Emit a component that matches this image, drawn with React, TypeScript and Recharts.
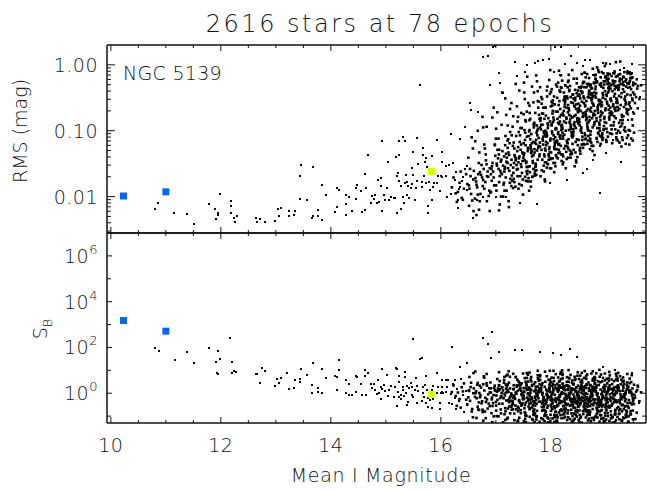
import React from 'react';
import { ScatterChart, Scatter, XAxis, YAxis } from 'recharts';

// ---- data ----
// brighter, sparse stars: [mean I magnitude, RMS (mag)]
const rmsBright: [number, number][] = [
  [10.81,0.0064],[10.86,0.0081],[11.15,0.0057],[11.38,0.0055],[11.52,0.0039],[11.78,0.0078],[11.90,0.0065],[11.94,0.0056],[11.95,0.0053],[11.91,0.0046],
  [11.99,0.0111],[12.18,0.0087],[12.19,0.0071],[12.18,0.0057],[12.24,0.0048],[12.29,0.0051],[12.26,0.0041],[12.63,0.0048],[12.66,0.0041],[12.71,0.0045],
  [12.81,0.0041],[12.99,0.0042],[13.03,0.0065],[13.09,0.0068],[13.05,0.0050],[13.23,0.0061],[13.24,0.0050],[13.33,0.0053],[13.35,0.0061],[13.44,0.0093],
  [13.45,0.0303],[13.44,0.0206],[13.57,0.0089],[13.68,0.0286],[13.65,0.0048],[13.67,0.0050],[13.76,0.0050],[13.83,0.0044],[13.76,0.0063],[13.84,0.0152],
  [13.91,0.0106],[14.07,0.0059],[14.11,0.0137],[14.15,0.0126],[14.12,0.0070],[14.27,0.0105],[14.27,0.0077],[14.27,0.0053],[14.33,0.0100],[14.38,0.0061],
  [14.45,0.0134],[14.48,0.0151],[14.45,0.0091],[14.54,0.0121],[14.56,0.0059],[14.62,0.0063],[14.64,0.0136],[14.62,0.0221],[14.68,0.0421],[14.73,0.0081],
  [14.75,0.0103],[14.78,0.0092],[14.80,0.0106],[14.85,0.0179],[14.84,0.0079],[14.88,0.0083],[14.91,0.0190],[14.93,0.0686],[14.92,0.0147],[14.93,0.0060],
  [14.97,0.0105],[14.99,0.0089],[15.02,0.0134],[15.04,0.0340],[15.06,0.0089],[15.09,0.0098],[15.14,0.0096],[15.17,0.0094],[15.18,0.0392],[15.20,0.0057],
  [15.21,0.0206],[15.22,0.0232],[15.24,0.0703],[15.24,0.0430],[15.23,0.0175],[15.27,0.0146],[15.28,0.0064],[15.31,0.0100],[15.32,0.0798],[15.35,0.0158],
  [15.35,0.0686],[15.33,0.0079],[15.36,0.0216],[15.38,0.0169],[15.39,0.0104],[15.41,0.0146],[15.42,0.0096],[15.45,0.0137],[15.47,0.0270],[15.48,0.0156],
  [15.50,0.0472],[15.50,0.0209],[15.53,0.0090],[15.56,0.0771],[15.55,0.0134],[15.56,0.0171],[15.58,0.0314],[15.62,0.493],[15.65,0.0169],[15.67,0.0421],
  [15.68,0.0544],[15.66,0.0142],[15.69,0.0202],[15.71,0.0337],[15.73,0.0383],[15.74,0.0286],[15.73,0.0161],[15.76,0.0073],[15.76,0.0057],[15.78,0.0169],
  [15.81,0.0125],[15.84,0.0416],[15.84,0.0090],[15.86,0.0140],[15.88,0.0163],[15.93,0.0711],[15.93,0.0160],[15.95,0.0206],[15.99,0.0122],[16.00,0.0204],
  [16.02,0.0472],[16.02,0.0337],[16.02,0.0200],[16.10,0.0206],[16.10,0.0293],[16.14,0.0303],[16.12,0.0100],
];

// faint-end outliers and envelope: [mag, RMS]
const rmsEdge: [number, number][] = [
  [16.18,0.011],[16.22,0.032],[16.25,0.018],[16.28,0.024],[16.35,0.014],[16.41,0.020],[16.47,0.029],[16.47,0.0126],[16.31,0.009],[16.39,0.017],[16.44,0.026],[16.33,0.013],
  [16.19,0.090],[16.35,0.074],[16.54,0.208],[16.68,0.189],[16.44,0.113],[16.53,0.262],[16.59,0.0047],[16.32,0.0066],[16.77,0.010],[16.65,0.0089],[17.01,0.010],
  [17.19,0.010],[17.44,0.008],[17.74,0.0077],[17.98,0.016],[18.29,0.018],[18.59,0.023],[18.65,0.026],[18.77,0.036],[18.89,0.0115],[19.27,0.033],[18.89,0.058],
  [19.01,0.046],[19.13,0.073],[19.25,0.115],[19.41,0.147],[19.44,0.234],[19.50,0.195],[19.41,0.45],[19.62,0.33],
  [16.76,1.31],[16.86,1.35],[16.94,1.86],[16.99,1.95],[17.05,0.75],[16.90,0.49],[17.07,0.53],[17.13,0.37],[17.35,1.09],[17.38,0.67],[17.53,0.77],[17.56,1.0],
  [17.71,1.06],[17.77,1.13],[17.86,1.17],[17.97,1.22],[18.05,0.79],[18.08,1.86],[18.18,1.86],[18.16,0.71],[18.26,1.04],[18.36,1.37],[18.47,1.06],[18.58,0.97],
  [18.62,1.19],[18.71,1.17],[18.77,0.71],[18.95,1.06],[19.07,1.04],[19.13,0.75],[19.26,0.84],[19.33,0.89],[19.44,0.79],[19.48,1.02],
];

// brighter, sparse stars: [mag, S_B]
const sbBright: [number, number][] = [
  [10.81,98],[10.87,72],[11.16,28],[11.39,63],[11.52,20],[11.78,92],[11.94,72],[11.99,30],[11.92,22],[11.93,7.9],[11.94,7.0],[12.17,250],[12.20,22],[12.23,9.4],[12.28,8.8],[12.20,7.5],
  [12.64,6.7],[12.66,7.0],[12.75,12.3],[12.81,9.4],[12.71,2.9],[12.99,2.1],[13.02,4.1],[13.09,4.8],[13.05,2.7],[13.21,8.0],[13.24,1.6],[13.33,1.76],[13.35,3.8],[13.44,4.1],
  [13.44,3.1],[13.45,11.9],[13.57,6.3],[13.65,2.3],[13.68,20.4],[13.66,1.07],[13.76,1.1],[13.77,1.7],[13.83,11.9],[13.84,1.0],[13.91,4.5],[14.07,5.7],[14.11,1.35],[14.15,28],
  [14.12,5.3],[14.14,10.4],[14.27,3.7],[14.27,1.0],[14.33,2.6],[14.33,0.81],[14.38,0.87],[14.45,5.9],[14.48,5.2],[14.45,1.1],[14.54,2.6],[14.56,0.87],[14.62,10.4],[14.64,0.87],
  [14.62,5.7],[14.68,8.0],[14.73,2.5],[14.75,1.65],[14.78,2.5],[14.80,1.35],[14.85,3.8],[14.84,0.96],[14.88,1.07],[14.91,1.95],[14.93,11.1],[14.92,0.58],[14.93,1.49],[14.97,2.2],
  [14.99,1.3],[15.02,6.1],[15.04,0.74],[15.06,1.39],[15.09,2.1],[15.14,0.71],[15.17,1.95],[15.18,13.2],[15.20,0.29],[15.21,11.1],[15.22,1.18],[15.24,3.2],[15.24,5.7],[15.23,0.71],
  [15.27,0.81],[15.28,0.55],[15.31,1.95],[15.32,1.39],[15.35,8.8],[15.35,5.3],[15.33,0.79],[15.36,1.07],[15.38,0.31],[15.39,2.15],[15.41,0.43],[15.42,1.7],[15.45,2.9],[15.47,0.84],
  [15.48,1.95],[15.50,243],[15.50,0.71],[15.53,1.44],[15.56,0.36],[15.55,4.5],[15.56,2.15],[15.58,1.22],[15.62,30],[15.65,33],[15.67,1.95],[15.68,1.0],[15.66,0.48],[15.69,0.71],
  [15.71,2.3],[15.73,5.7],[15.74,1.39],[15.73,0.38],[15.76,0.6],[15.76,0.26],[15.78,1.18],[15.81,0.51],[15.84,0.22],[15.84,1.39],[15.86,2.1],[15.88,0.84],[15.93,8.0],[15.93,1.07],
  [15.95,1.95],[15.99,0.36],[16.00,1.07],[16.02,1.1],[16.02,1.8],[16.02,3.8],[16.10,3.8],[16.10,1.1],[16.14,0.36],[16.12,1.95],[15.98,0.2],[16.04,1.0],[16.13,3.8],[15.86,0.55],
];

// faint-end outliers: [mag, S_B]
const sbEdge: [number, number][] = [
  [16.93,450],[16.76,270],[16.86,138],[16.20,102],[17.06,66],[17.34,78],[17.48,78],[17.80,66],[18.35,85],[18.04,56],[18.19,47],[18.47,40],[16.35,14.6],[16.48,20],
  [16.92,36],[19.47,7.4],[19.61,0.39],[19.16,10.4],[18.95,14.6],[16.25,3.8],
  [16.18,0.9],[16.20,0.35],[16.22,2.5],[16.25,0.6],[16.28,0.2],[16.30,1.5],[16.33,0.45],[16.36,4.0],[16.40,0.8],[16.42,0.15],[16.45,1.2],[16.48,0.3],
];

// dense faint cloud, core: [mag, log10 RMS, log10 S_B]
const faintCore: [number, number, number][] = [
  [16.27,-1.95,-0.12],[16.23,-1.71,0.34],[16.29,-2.08,-0.55],[16.20,-1.86,0.05],
  [16.34,-1.79,-0.26],[16.38,-2.02,0.26],[16.31,-1.93,0.03],[16.36,-1.62,-0.63],
  [16.42,-1.88,0.43],[16.46,-1.66,-0.28],[16.40,-2.05,0.08],[16.48,-1.81,-0.49],
  [16.59,-1.74,0.00],[16.55,-1.96,0.46],[16.53,-1.58,-0.33],[16.51,-1.83,0.10],[16.57,-2.06,-0.69],[16.54,-1.69,0.27],[16.50,-1.41,-0.18],[16.52,-1.88,0.71],
  [16.65,-1.82,-0.22],[16.60,-1.61,0.21],[16.67,-1.97,-0.59],[16.63,-1.72,0.00],[16.69,-1.49,-0.40],[16.66,-1.86,0.37],[16.62,-2.03,-0.16],[16.68,-1.66,-0.71],[16.64,-1.77,0.08],
  [16.71,-1.63,-0.18],[16.79,-1.88,0.12],[16.74,-1.52,-0.44],[16.77,-1.75,0.39],[16.72,-1.96,-0.09],[16.78,-1.58,0.74],[16.75,-1.71,-0.35],[16.70,-1.33,0.01],[16.76,-1.84,-0.82],[16.73,-1.67,0.25],
  [16.86,-1.70,-0.05],[16.82,-1.45,-0.38],[16.88,-1.91,0.22],[16.85,-1.62,-0.67],[16.81,-1.78,-0.20],[16.83,-1.51,0.43],[16.87,-1.99,-0.45],[16.89,-1.57,0.04],[16.80,-1.27,-0.80],[16.84,-1.69,-0.27],
  [16.93,-1.54,-0.19],[16.97,-1.83,0.24],[16.95,-1.62,-0.43],[16.99,-1.38,0.12],[16.96,-1.71,-0.08],[16.90,-1.94,0.47],[16.94,-1.49,-0.56],[16.91,-1.66,0.03],[16.98,-1.21,0.33],[16.92,-1.58,-0.87],[16.925,-1.76,-0.27],
  [17.08,-1.61,-0.21],[17.04,-1.42,0.21],[17.06,-1.78,-0.46],[17.02,-1.53,0.07],[17.03,-1.29,-0.29],[17.07,-1.69,0.53],[17.01,-1.91,-0.10],[17.09,-1.47,-0.71],[17.05,-1.58,0.12],[17.00,-1.12,-0.38],[17.005,-1.83,-0.54],[17.055,-1.36,0.35],[17.095,-1.64,-0.15],[17.015,-1.50,-1.00],
  [17.10,-1.44,-0.13],[17.11,-1.66,0.26],[17.12,-1.31,-0.46],[17.13,-1.53,0.12],[17.14,-1.82,-0.22],[17.15,-1.39,0.57],[17.16,-1.58,-0.02],[17.17,-1.22,-0.65],[17.18,-1.71,0.38],[17.19,-1.47,-0.32],[17.195,-1.91,0.04],[17.185,-1.35,0.20],[17.175,-1.08,-0.79],[17.165,-1.55,-0.10],[17.155,-1.62,0.71],
  [17.27,-1.52,-0.34],[17.23,-1.33,0.06],[17.29,-1.68,-0.52],[17.20,-1.41,0.30],[17.25,-1.19,-0.21],[17.22,-1.57,-0.67],[17.28,-1.84,-0.01],[17.24,-1.37,-0.39],[17.21,-1.49,0.15],[17.26,-1.02,-0.88],[17.265,-1.73,-0.15],[17.215,-1.26,0.38],[17.245,-1.61,-0.58],[17.285,-1.44,-0.08],[17.225,-1.13,-0.30],[17.255,-1.79,0.72],[17.205,-1.48,-1.12],
  [17.34,-1.37,-0.16],[17.38,-1.59,0.28],[17.31,-1.23,-0.47],[17.36,-1.45,0.03],[17.30,-1.76,-0.33],[17.39,-1.31,0.59],[17.33,-1.49,-0.10],[17.37,-1.08,-0.70],[17.32,-1.64,0.17],[17.35,-1.40,-0.25],[17.355,-1.85,-0.54],[17.325,-1.18,0.35],[17.375,-1.52,-0.02],[17.335,-1.27,-0.89],[17.395,-1.69,0.10],[17.305,-0.94,-0.37],[17.365,-1.42,0.71],[17.315,-1.56,-0.19],
  [17.42,-1.42,-0.34],[17.46,-1.21,0.11],[17.40,-1.58,-0.59],[17.48,-1.33,-0.01],[17.44,-1.07,-0.41],[17.41,-1.48,0.34],[17.49,-1.74,-0.22],[17.45,-1.29,-0.74],[17.43,-1.39,0.16],[17.47,-0.96,-0.50],[17.475,-1.64,-0.09],[17.435,-1.17,0.45],[17.455,-1.51,-0.87],[17.495,-1.35,-0.27],[17.415,-1.02,-0.66],[17.445,-1.69,0.23],[17.485,-1.46,-0.44],[17.405,-1.25,-1.19],[17.465,-1.55,-0.04],[17.425,-1.81,-0.30],
  [17.59,-1.28,-0.26],[17.55,-1.49,0.21],[17.53,-1.14,-0.52],[17.51,-1.37,0.07],[17.57,-1.66,-0.19],[17.54,-1.22,0.50],[17.50,-1.41,-0.08],[17.52,-0.99,-0.66],[17.56,-1.55,0.33],[17.58,-1.31,-0.34],[17.585,-1.77,0.00],[17.565,-1.09,0.67],[17.525,-1.45,-0.83],[17.505,-1.19,-0.12],[17.545,-0.86,-0.41],[17.575,-1.61,0.16],[17.515,-1.34,-0.23],[17.535,-1.03,-0.97],[17.555,-1.47,0.40],[17.595,-1.72,-0.58],[17.582,-1.26,-0.04],[17.562,-0.71,0.88],
  [17.65,-1.31,-0.25],[17.60,-1.08,0.18],[17.67,-1.46,-0.51],[17.63,-1.22,0.03],[17.69,-0.95,-0.37],[17.66,-1.39,0.36],[17.62,-1.63,-0.14],[17.68,-1.17,-0.78],[17.64,-1.28,0.15],[17.61,-0.84,-0.46],[17.615,-1.54,-0.05],[17.645,-1.05,0.52],[17.685,-1.37,-0.95],[17.625,-1.13,-0.29],[17.665,-1.70,-0.62],[17.695,-0.91,0.09],[17.635,-1.25,-0.41],[17.675,-1.49,-1.17],[17.605,-1.01,0.24],[17.655,-1.19,-0.18],[17.612,-0.62,-0.70],[17.642,-1.34,0.71],[17.682,-1.58,-0.34],
  [17.71,-1.18,-0.20],[17.79,-1.39,0.21],[17.74,-1.03,-0.46],[17.77,-1.26,0.10],[17.72,-1.55,-0.14],[17.78,-1.11,0.54],[17.75,-1.30,-0.05],[17.70,-0.88,-0.71],[17.76,-1.44,0.29],[17.73,-1.20,-0.30],[17.735,-1.67,0.03],[17.765,-0.97,0.65],[17.705,-1.33,-0.88],[17.755,-1.07,-0.12],[17.785,-0.76,-0.37],[17.725,-1.50,0.16],[17.775,-1.23,-0.22],[17.745,-0.92,-1.01],[17.795,-1.36,0.39],[17.715,-1.61,-0.54],[17.732,-1.14,0.00],[17.762,-0.55,0.98],[17.702,-1.28,-0.41],[17.752,-1.00,-0.09],
  [17.86,-1.21,-0.29],[17.82,-0.98,0.13],[17.88,-1.36,-0.51],[17.85,-1.12,0.02],[17.81,-0.85,-0.37],[17.83,-1.29,0.36],[17.87,-1.53,-0.19],[17.89,-1.07,-0.74],[17.80,-1.18,0.20],[17.84,-0.74,-0.45],[17.845,-1.44,-0.06],[17.805,-0.95,0.58],[17.895,-1.27,-0.91],[17.875,-1.03,-0.27],[17.835,-1.60,-0.60],[17.815,-0.81,0.08],[17.855,-1.15,-0.40],[17.885,-1.39,-1.22],[17.825,-0.91,0.24],[17.865,-1.09,-0.17],[17.842,-0.52,-0.76],[17.802,-1.24,0.74],[17.892,-1.48,-0.32],[17.872,-1.01,-0.55],
  [17.93,-1.07,-0.28],[17.97,-1.28,0.12],[17.95,-0.92,-0.55],[17.99,-1.15,0.05],[17.96,-1.44,-0.18],[17.90,-1.00,0.50],[17.94,-1.19,-0.09],[17.91,-0.77,-0.80],[17.98,-1.33,0.21],[17.92,-1.09,-0.37],[17.925,-1.56,-0.05],[17.985,-0.86,0.57],[17.915,-1.22,-0.96],[17.945,-0.96,-0.20],[17.905,-0.65,-0.46],[17.965,-1.39,0.09],[17.995,-1.12,-0.29],[17.955,-0.81,-1.11],[17.975,-1.25,0.35],[17.935,-1.50,-0.63],[17.922,-1.03,-0.07],[17.982,-0.44,0.98],[17.912,-1.17,-0.44],[17.942,-0.89,-0.14],[17.902,-1.30,-0.32],
  [18.08,-1.10,-0.30],[18.04,-0.87,0.08],[18.06,-1.25,-0.58],[18.02,-1.01,-0.04],[18.03,-0.74,-0.42],[18.07,-1.18,0.34],[18.01,-1.42,-0.22],[18.09,-0.96,-0.81],[18.05,-1.07,0.14],[18.00,-0.63,-0.50],[18.005,-1.33,-0.12],[18.055,-0.84,0.52],[18.095,-1.16,-0.99],[18.015,-0.92,-0.33],[18.075,-1.49,-0.66],[18.035,-0.70,0.03],[18.025,-1.04,-0.45],[18.065,-1.28,-1.25],[18.045,-0.80,0.21],[18.085,-0.98,-0.23],[18.002,-0.41,-0.77],[18.052,-1.13,0.67],[18.092,-1.37,-0.37],[18.012,-0.90,-0.61],[18.072,-1.22,-0.07],[18.032,-0.58,-0.28],
  [18.10,-0.97,-0.22],[18.11,-1.18,0.17],[18.12,-0.82,-0.50],[18.13,-1.05,0.07],[18.14,-1.34,-0.18],[18.15,-0.90,0.50],[18.16,-1.09,-0.07],[18.17,-0.67,-0.75],[18.18,-1.23,0.25],[18.19,-0.99,-0.35],[18.195,-1.46,-0.01],[18.185,-0.76,0.61],[18.175,-1.12,-0.95],[18.165,-0.86,-0.14],[18.155,-0.55,-0.42],[18.145,-1.29,0.14],[18.135,-1.02,-0.27],[18.125,-0.71,-1.06],[18.115,-1.15,0.40],[18.105,-1.40,-0.58],[18.192,-0.93,-0.03],[18.182,-0.34,0.92],[18.172,-1.07,-0.43],[18.162,-0.79,-0.12],[18.152,-1.20,-0.30],[18.142,-0.61,0.29],[18.132,-0.88,-0.54],
  [18.27,-1.00,-0.24],[18.23,-0.77,0.18],[18.29,-1.15,-0.48],[18.20,-0.91,0.05],[18.25,-0.64,-0.36],[18.22,-1.08,0.39],[18.28,-1.32,-0.13],[18.24,-0.86,-0.71],[18.21,-0.97,0.25],[18.26,-0.53,-0.43],[18.265,-1.23,-0.03],[18.215,-0.74,0.65],[18.245,-1.06,-0.88],[18.285,-0.82,-0.26],[18.225,-1.39,-0.57],[18.255,-0.60,0.13],[18.205,-0.94,-0.38],[18.295,-1.18,-1.17],[18.235,-0.70,0.30],[18.275,-0.88,-0.14],[18.262,-0.31,-0.67],[18.212,-1.03,0.80],[18.242,-1.27,-0.30],[18.282,-0.80,-0.52],[18.222,-1.12,0.00],[18.252,-0.48,-0.21],[18.202,-0.96,-0.77],
  [18.34,-0.87,-0.20],[18.38,-1.08,0.20],[18.31,-0.72,-0.47],[18.36,-0.95,0.10],[18.30,-1.24,-0.12],[18.39,-0.80,0.56],[18.33,-0.99,-0.01],[18.37,-0.57,-0.72],[18.32,-1.13,0.30],[18.35,-0.89,-0.30],[18.355,-1.36,0.02],[18.325,-0.66,0.67],[18.375,-1.02,-0.88],[18.335,-0.76,-0.09],[18.395,-0.45,-0.40],[18.305,-1.19,0.17],[18.365,-0.92,-0.24],[18.315,-0.61,-1.05],[18.385,-1.05,0.45],[18.345,-1.30,-0.55],[18.352,-0.83,0.00],[18.322,-0.24,1.01],[18.372,-0.97,-0.36],[18.332,-0.69,-0.07],[18.392,-1.10,-0.27],[18.302,-0.51,0.35],[18.362,-0.78,-0.51],[18.312,-1.41,-0.15],
  [18.42,-0.90,-0.27],[18.46,-0.67,0.10],[18.40,-1.05,-0.56],[18.48,-0.81,0.01],[18.44,-0.54,-0.40],[18.41,-0.98,0.38],[18.49,-1.22,-0.20],[18.45,-0.76,-0.79],[18.43,-0.87,0.18],[18.47,-0.43,-0.46],[18.475,-1.13,-0.09],[18.435,-0.64,0.58],[18.455,-0.96,-0.95],[18.495,-0.72,-0.32],[18.415,-1.29,-0.63],[18.445,-0.50,0.07],[18.485,-0.84,-0.42],[18.405,-1.08,-1.24],[18.465,-0.60,0.26],[18.425,-0.78,-0.18],[18.472,-0.21,-0.73],[18.432,-0.93,0.72],[18.452,-1.17,-0.36],[18.492,-0.70,-0.59],[18.412,-1.02,-0.06],[18.442,-0.38,-0.25],[18.482,-0.86,-0.83],[18.402,-0.58,-0.50],
  [18.59,-0.77,-0.22],[18.55,-0.98,0.17],[18.53,-0.62,-0.49],[18.51,-0.85,0.07],[18.57,-1.14,-0.18],[18.54,-0.70,0.50],[18.50,-0.89,-0.07],[18.52,-0.47,-0.75],[18.56,-1.03,0.23],[18.58,-0.79,-0.34],[18.585,-1.26,-0.02],[18.565,-0.56,0.58],[18.525,-0.92,-0.95],[18.505,-0.66,-0.15],[18.545,-0.35,-0.43],[18.575,-1.09,0.13],[18.515,-0.82,-0.28],[18.535,-0.51,-1.09],[18.555,-0.95,0.38],[18.595,-1.20,-0.58],[18.582,-0.73,-0.04],[18.562,-0.14,0.89],[18.522,-0.87,-0.43],[18.502,-0.59,-0.13],[18.542,-1.00,-0.30],[18.572,-0.41,0.29],[18.512,-0.68,-0.57],[18.532,-1.31,-0.21],
  [18.65,-0.81,-0.26],[18.60,-0.58,0.14],[18.67,-0.96,-0.52],[18.63,-0.72,0.01],[18.69,-0.45,-0.37],[18.66,-0.89,0.38],[18.62,-1.13,-0.17],[18.68,-0.67,-0.75],[18.64,-0.78,0.23],[18.61,-0.34,-0.45],[18.615,-1.04,-0.06],[18.645,-0.55,0.63],[18.685,-0.87,-0.90],[18.625,-0.63,-0.31],[18.665,-1.20,-0.59],[18.695,-0.41,0.11],[18.635,-0.75,-0.42],[18.675,-0.99,-1.19],[18.605,-0.51,0.26],[18.655,-0.69,-0.18],[18.612,-0.12,-0.69],[18.642,-0.84,0.75],[18.682,-1.08,-0.33],[18.622,-0.61,-0.54],[18.662,-0.93,-0.03],[18.692,-0.29,-0.25],[18.632,-0.77,-0.79],[18.672,-0.49,-0.47],
  [18.71,-0.69,-0.21],[18.79,-0.90,0.17],[18.74,-0.54,-0.48],[18.77,-0.77,0.09],[18.72,-1.06,-0.14],[18.78,-0.62,0.55],[18.75,-0.81,-0.03],[18.70,-0.39,-0.75],[18.76,-0.95,0.27],[18.73,-0.71,-0.33],[18.735,-1.18,0.00],[18.765,-0.48,0.64],[18.705,-0.84,-0.91],[18.755,-0.58,-0.11],[18.785,-0.27,-0.41],[18.725,-1.01,0.14],[18.775,-0.74,-0.26],[18.745,-0.43,-1.08],[18.795,-0.87,0.42],[18.715,-1.12,-0.56],[18.732,-0.65,-0.02],[18.762,-0.06,0.96],[18.702,-0.79,-0.39],[18.752,-0.51,-0.09],[18.782,-0.92,-0.28],[18.722,-0.33,0.34],[18.772,-0.60,-0.52],[18.742,-1.23,-0.17],
  [18.86,-0.73,-0.31],[18.82,-0.50,0.10],[18.88,-0.88,-0.56],[18.85,-0.64,-0.01],[18.81,-0.37,-0.42],[18.83,-0.81,0.34],[18.87,-1.05,-0.19],[18.89,-0.59,-0.79],[18.80,-0.70,0.18],[18.84,-0.26,-0.49],[18.845,-0.96,-0.10],[18.805,-0.47,0.58],[18.895,-0.79,-0.95],[18.875,-0.55,-0.33],[18.835,-1.12,-0.63],[18.815,-0.33,0.07],[18.855,-0.67,-0.44],[18.885,-0.91,-1.24],[18.825,-0.43,0.24],[18.865,-0.61,-0.20],[18.842,-0.04,-0.73],[18.802,-0.76,0.67],[18.892,-1.00,-0.37],[18.872,-0.53,-0.59],[18.832,-0.85,-0.05],[18.812,-0.21,-0.27],[18.852,-0.69,-0.83],
  [18.93,-0.61,-0.24],[18.97,-0.82,0.15],[18.95,-0.46,-0.51],[18.99,-0.69,0.06],[18.96,-0.98,-0.19],[18.90,-0.54,0.48],[18.94,-0.73,-0.08],[18.91,-0.31,-0.77],[18.98,-0.87,0.21],[18.92,-0.63,-0.36],[18.925,-1.10,-0.03],[18.985,-0.40,0.56],[18.915,-0.76,-0.97],[18.945,-0.50,-0.16],[18.905,-0.19,-0.44],[18.965,-0.93,0.11],[18.995,-0.66,-0.29],[18.955,-0.35,-1.09],[18.975,-0.79,0.36],[18.935,-1.04,-0.58],[18.922,-0.57,-0.05],[18.982,-0.02,0.86],[18.912,-0.71,-0.44],[18.942,-0.43,-0.14],[18.902,-0.84,-0.31],[18.962,-0.25,0.26],[18.992,-0.52,-0.59],
  [19.08,-0.65,-0.28],[19.04,-0.42,0.11],[19.06,-0.80,-0.55],[19.02,-0.56,0.00],[19.03,-0.29,-0.39],[19.07,-0.73,0.34],[19.01,-0.97,-0.19],[19.09,-0.51,-0.79],[19.05,-0.62,0.17],[19.00,-0.18,-0.46],[19.005,-0.88,-0.07],[19.055,-0.39,0.55],[19.095,-0.71,-0.95],[19.015,-0.47,-0.32],[19.075,-1.04,-0.62],[19.035,-0.25,0.07],[19.025,-0.59,-0.41],[19.065,-0.83,-1.21],[19.045,-0.35,0.24],[19.085,-0.53,-0.18],[19.002,0.02,-0.71],[19.052,-0.68,0.65],[19.092,-0.92,-0.35],[19.012,-0.45,-0.57],[19.072,-0.77,-0.05],[19.032,-0.13,-0.25],
  [19.10,-0.55,-0.19],[19.11,-0.76,0.19],[19.12,-0.40,-0.46],[19.13,-0.63,0.11],[19.14,-0.92,-0.10],[19.15,-0.48,0.53],[19.16,-0.67,-0.02],[19.17,-0.25,-0.73],[19.18,-0.81,0.27],[19.19,-0.57,-0.31],[19.195,-1.04,0.03],[19.185,-0.34,0.60],[19.175,-0.70,-0.91],[19.165,-0.44,-0.08],[19.155,-0.13,-0.39],[19.145,-0.87,0.17],[19.135,-0.60,-0.23],[19.125,-0.29,-1.04],[19.115,-0.73,0.40],[19.105,-0.98,-0.54],[19.192,-0.51,0.01],[19.182,0.04,0.85],[19.172,-0.65,-0.35],[19.162,-0.37,-0.06],[19.152,-0.78,-0.26],
  [19.27,-0.61,-0.23],[19.23,-0.38,0.13],[19.29,-0.76,-0.53],[19.20,-0.52,0.04],[19.25,-0.25,-0.35],[19.22,-0.69,0.35],[19.28,-0.93,-0.15],[19.24,-0.47,-0.75],[19.21,-0.58,0.22],[19.26,-0.14,-0.44],[19.265,-0.84,-0.05],[19.215,-0.35,0.55],[19.245,-0.67,-0.89],[19.285,-0.43,-0.27],[19.225,-1.00,-0.60],[19.255,-0.21,0.09],[19.205,-0.55,-0.39],[19.295,-0.79,-1.20],[19.235,-0.31,0.25],[19.275,-0.49,-0.14],[19.262,0.05,-0.69],[19.212,-0.64,0.64],[19.242,-0.88,-0.31],
  [19.34,-0.52,-0.21],[19.38,-0.73,0.16],[19.31,-0.37,-0.50],[19.36,-0.60,0.07],[19.30,-0.89,-0.16],[19.39,-0.45,0.47],[19.33,-0.64,-0.05],[19.37,-0.22,-0.76],[19.32,-0.78,0.23],[19.35,-0.54,-0.35],[19.355,-1.01,-0.01],[19.325,-0.31,0.54],[19.375,-0.67,-0.92],[19.335,-0.41,-0.13],[19.395,-0.10,-0.43],[19.305,-0.84,0.11],[19.365,-0.57,-0.27],[19.315,-0.26,-1.06],[19.385,-0.70,0.34],[19.345,-0.95,-0.58],[19.352,-0.48,-0.04],
  [19.42,-0.60,-0.30],[19.46,-0.37,0.06],[19.40,-0.75,-0.57],[19.48,-0.51,-0.03],[19.44,-0.24,-0.42],[19.41,-0.68,0.28],[19.49,-0.92,-0.22],[19.45,-0.46,-0.78],[19.43,-0.57,0.13],[19.47,-0.13,-0.49],[19.475,-0.83,-0.10],[19.435,-0.34,0.44],[19.455,-0.66,-0.93],[19.495,-0.42,-0.34],[19.415,-0.99,-0.64],[19.445,-0.20,0.02],[19.485,-0.54,-0.45],
  [19.53,-0.58,-0.19],[19.57,-0.36,0.14],[19.51,-0.74,-0.47],[19.55,-0.49,0.07],[19.50,-0.27,-0.26],[19.58,-0.66,0.33],[19.52,-0.45,-0.07],
  [19.61,-0.52,-0.35],[19.64,-0.31,0.04],
];

// dense faint cloud, wings: [mag, log10 RMS, log10 S_B]
const faintWings: [number, number, number][] = [
  [16.583,-1.27,-1.05],[16.512,-2.14,0.13],[16.561,-1.10,-0.80],[16.594,-2.22,0.88],
  [16.694,-2.20,-0.73],[16.626,-1.16,0.95],[16.648,-2.28,-1.08],[16.671,-1.00,0.45],
  [16.771,-0.95,-1.20],[16.705,-2.07,0.33],[16.758,-0.79,-0.72],[16.789,-1.21,0.68],
  [16.889,-2.22,-0.56],[16.833,-0.94,0.84],[16.816,-1.36,-1.09],[16.837,-2.07,0.33],
  [16.937,-0.80,-1.27],[16.983,-1.22,0.13],[16.912,-1.93,0.21],[16.961,-0.65,-1.01],
  [17.061,-1.29,0.34],[17.094,-2.00,-0.88],[17.026,-0.72,0.62],[17.048,-1.12,-1.01],[17.071,-2.12,0.17],[17.005,-0.97,-0.76],[17.058,-2.21,0.92],
  [17.148,-1.79,0.46],[17.171,-0.51,-1.17],[17.105,-0.91,0.01],[17.158,-1.91,-0.92],[17.189,-0.76,0.76],[17.133,-2.00,-1.27],[17.116,-0.42,0.26],
  [17.258,-0.67,0.21],[17.289,-1.07,-0.72],[17.233,-2.07,0.96],[17.216,-0.92,-1.07],[17.237,-2.16,0.46],[17.283,-0.58,-0.59],[17.212,-1.15,0.81],
  [17.316,-0.78,0.85],[17.337,-1.78,-1.18],[17.383,-0.63,0.35],[17.312,-1.87,-0.70],[17.361,-0.29,0.70],[17.394,-0.86,-1.23],[17.326,-1.73,0.19],
  [17.412,-1.88,0.51],[17.461,-0.73,-0.54],[17.494,-1.97,0.86],[17.426,-0.39,-1.07],[17.448,-0.96,0.35],[17.471,-1.83,0.43],[17.405,-0.79,-0.79],
  [17.526,-0.52,0.66],[17.548,-1.76,-1.27],[17.571,-0.18,0.15],[17.505,-0.75,0.23],[17.558,-1.62,-0.99],[17.589,-0.58,0.51],[17.533,-1.70,-1.12],[17.516,-0.42,0.06],[17.537,-0.84,-0.87],[17.583,-1.55,0.81],[17.512,-0.27,-1.22],
  [17.605,-1.91,0.24],[17.658,-0.33,0.32],[17.689,-0.90,-0.90],[17.633,-1.77,0.60],[17.616,-0.73,-1.03],[17.637,-1.85,0.15],[17.683,-0.57,-0.78],[17.612,-0.99,0.90],[17.661,-1.70,-1.13],[17.694,-0.42,0.40],[17.626,-0.82,-0.65],
  [17.733,-0.16,-1.02],[17.716,-0.73,0.48],[17.737,-1.60,-1.15],[17.783,-0.56,0.03],[17.712,-1.68,-0.90],[17.761,-0.40,0.78],[17.794,-0.82,-1.25],[17.726,-1.53,0.28],[17.748,-0.25,-0.77],[17.771,-0.65,0.63],[17.705,-1.65,-1.27],
  [17.883,-0.82,-0.99],[17.812,-1.69,0.19],[17.861,-0.65,-0.74],[17.894,-1.77,0.94],[17.826,-0.49,-1.09],[17.848,-0.91,0.44],[17.871,-1.62,-0.61],[17.805,-0.34,0.79],[17.858,-0.74,-1.14],[17.889,-1.74,0.28],[17.833,-0.59,0.36],
  [17.994,-1.43,-0.94],[17.926,-0.39,0.74],[17.948,-1.51,-1.27],[17.971,-0.23,0.24],[17.905,-0.65,-0.81],[17.958,-1.36,0.59],[17.989,-0.08,-1.24],[17.933,-0.48,0.08],[17.916,-1.48,0.16],[17.937,-0.33,-1.06],[17.983,-1.57,0.44],
  [18.071,-0.60,-1.05],[18.005,-1.57,0.48],[18.058,-0.48,-0.57],[18.089,-0.71,0.83],[18.033,-1.42,-1.10],[18.016,-0.37,0.32],[18.037,-0.54,0.40],[18.083,-1.54,-0.82],[18.012,-0.56,0.68],[18.061,-1.63,-0.95],[18.094,-0.30,0.23],[18.026,-0.62,-0.70],[18.048,-1.49,0.98],
  [18.189,-1.36,-0.71],[18.133,-0.27,0.69],[18.116,-0.50,-1.24],[18.137,-1.21,0.18],[18.183,-0.16,0.26],[18.112,-0.33,-0.96],[18.161,-1.33,0.54],[18.194,-0.35,-1.09],[18.126,-1.42,0.09],[18.148,-0.09,-0.84],[18.171,-0.41,0.84],[18.105,-1.28,-1.19],[18.158,-0.39,0.34],
  [18.237,-0.42,-1.08],[18.283,-0.65,0.34],[18.212,-1.36,0.42],[18.261,-0.31,-0.80],[18.294,-0.48,0.70],[18.226,-1.48,-0.93],[18.248,-0.50,0.25],[18.271,-1.57,-0.68],[18.205,-0.24,1.00],[18.258,-0.56,-1.03],[18.289,-1.43,0.50],[18.233,-0.54,-0.55],[18.216,-1.51,0.85],
  [18.361,-0.49,0.22],[18.394,-1.20,-1.00],[18.326,-0.15,0.50],[18.348,-0.32,-1.13],[18.371,-1.32,0.05],[18.305,-0.34,-0.88],[18.358,-1.41,0.80],[18.389,-0.08,-1.23],[18.333,-0.40,0.30],[18.316,-1.27,-0.75],[18.337,-0.38,0.65],[18.383,-1.35,-1.26],[18.312,-0.26,0.14],
  [18.448,-1.33,0.61],[18.471,-0.28,-1.02],[18.405,-0.45,0.16],[18.458,-1.45,-0.77],[18.489,-0.47,0.91],[18.433,-1.54,-1.12],[18.416,-0.21,0.41],[18.437,-0.53,-0.64],[18.483,-1.40,0.76],[18.412,-0.51,-1.17],[18.461,-1.48,0.25],[18.494,-0.39,0.33],[18.426,-0.62,-0.89],
  [18.558,-0.33,0.02],[18.589,-0.26,-0.91],[18.533,-1.26,0.77],[18.516,-0.45,-1.26],[18.537,-1.35,0.27],[18.583,-0.28,-0.78],[18.512,-0.34,0.62],[18.561,-1.21,-1.28],[18.594,-0.48,0.11],[18.526,-1.29,0.19],[18.548,-0.40,-1.03],[18.571,-0.43,0.47],[18.505,-1.14,-1.16],
  [18.616,-0.12,0.97],[18.637,-1.12,-1.06],[18.683,-0.31,0.47],[18.612,-1.21,-0.58],[18.661,-0.14,0.82],[18.694,-0.20,-1.11],[18.626,-1.07,0.31],[18.648,-0.34,0.39],[18.671,-1.15,-0.83],[18.605,-0.26,0.67],[18.658,-0.29,-0.96],[18.689,-1.00,0.22],[18.633,-0.19,-0.71],
  [18.712,-1.28,0.36],[18.761,-0.47,-0.69],[18.794,-1.37,0.71],[18.726,-0.30,-1.22],[18.748,-0.36,0.20],[18.771,-1.23,0.28],[18.705,-0.50,-0.94],[18.758,-1.31,0.56],[18.789,-0.42,-1.07],[18.733,-0.45,0.11],[18.716,-1.16,-0.82],[18.737,-0.35,0.86],[18.783,-0.28,-1.17],
  [18.826,-0.27,0.87],[18.848,-1.17,-1.06],[18.871,-0.11,0.36],[18.805,-0.16,0.44],[18.858,-1.03,-0.78],[18.889,-0.30,0.72],[18.833,-1.11,-0.91],[18.816,-0.22,0.27],[18.837,-0.25,-0.66],[18.883,-0.96,1.02],[18.812,-0.15,-1.01],[18.861,-0.08,0.52],[18.894,-1.08,-0.53],
  [18.905,-1.20,0.16],[18.958,-0.13,0.24],[18.989,-0.19,-0.98],[18.933,-1.06,0.52],[18.916,-0.33,-1.11],[18.937,-1.14,0.07],[18.983,-0.25,-0.86],[18.912,-0.28,0.82],[18.961,-0.99,-1.21],[18.994,-0.18,0.32],[18.926,-0.11,-0.73],[18.948,-1.11,0.67],[18.971,-0.30,-1.26],
  [19.033,-0.16,-0.87],[19.016,-0.22,0.63],[19.037,-1.09,-1.00],[19.083,-0.36,0.18],[19.012,-1.17,-0.75],[19.061,-0.28,0.93],[19.094,-0.31,-1.10],[19.026,-1.02,0.43],[19.048,-0.21,-0.62],[19.071,-0.14,0.78],[19.005,-1.14,-1.15],[19.058,-0.33,0.27],
  [19.183,-0.18,-1.18],[19.112,-1.05,0.00],[19.161,-0.32,-0.93],[19.194,-1.13,0.75],[19.126,-0.24,-1.28],[19.148,-0.27,0.25],[19.171,-0.98,-0.80],[19.105,-0.17,0.60],[19.158,-0.10,-1.27],[19.189,-1.10,0.09],[19.133,-0.29,0.17],[19.116,-1.19,-1.05],
  [19.294,-1.10,-0.79],[19.226,-0.37,0.89],[19.248,-1.18,-1.14],[19.271,-0.29,0.39],[19.205,-0.32,-0.66],[19.258,-1.03,0.74],[19.289,-0.22,-1.19],[19.233,-0.15,0.23],[19.216,-1.15,0.31],[19.237,-0.34,-0.91],[19.283,-1.24,0.59],[19.212,-0.17,-1.04],
  [19.371,-0.33,-1.04],[19.305,-1.14,0.49],[19.358,-0.25,-0.56],[19.389,-0.28,0.84],[19.333,-0.99,-1.09],[19.316,-0.18,0.33],[19.337,-0.11,0.41],[19.383,-1.11,-0.81],[19.312,-0.30,0.69],[19.361,-1.20,-0.94],[19.394,-0.13,0.24],[19.326,-0.19,-0.69],
  [19.489,-1.15,-0.76],[19.433,-0.26,0.64],[19.416,-0.29,-1.27],[19.437,-1.00,0.13],[19.483,-0.19,0.21],[19.412,-0.12,-1.01],[19.461,-1.12,0.49],[19.494,-0.31,-1.14],[19.426,-1.21,0.04],[19.448,-0.14,-0.89],[19.471,-0.20,0.79],[19.405,-1.07,-1.24],
  [19.537,-0.29,-1.13],[19.583,-0.32,0.29],[19.512,-1.03,0.37],[19.561,-0.22,-0.85],
];

// highlighted stars: [mag, RMS, S_B]
const blueStars: [number, number, number][] = [[10.23, 0.0102, 1500], [11.0, 0.0118, 515]];
const yellowStars: [number, number, number][] = [[15.83, 0.0242, 0.89]];

// ---- axes ----
const magDomain = [9.93, 19.73];
const magTicks = [10,10.5,11,11.5,12,12.5,13,13.5,14,14.5,15,15.5,16,16.5,17,17.5,18,18.5,19,19.5];
const magMajor = [10, 12, 14, 16, 18];
const rmsDomain = [0.0028, 2];
const rmsTicks = [0.003,0.004,0.005,0.006,0.007,0.008,0.009,0.01,0.02,0.03,0.04,0.05,0.06,0.07,0.08,0.09,0.1,0.2,0.3,0.4,0.5,0.6,0.7,0.8,0.9,1];
const rmsMajor = [0.01, 0.1, 1];
const sbDomain = [0.05, 1e7];
const sbTicks = [0.1, 1, 10, 100, 1000, 1e4, 1e5, 1e6];
const sbMajor = [1, 100, 1e4, 1e6];

const INK = '#111';
const FONT = "'DejaVu Sans', sans-serif";
const WEIGHT = 200;
const OFF = 8; // tickSize + tickMargin: from the label anchor back to the axis line

const isMajor = (v: number, majors: number[]) => majors.some((m) => Math.abs(v / m - 1) < 1e-6);
const pts = (arr: [number, number][]) => arr.map(([m, v]) => ({ m, v }));
const faint = [...faintCore, ...faintWings];
const rmsFaint = faint.map(([m, r]) => ({ m, v: 10 ** r }));
const sbFaint = faint.map(([m, , s]) => ({ m, v: 10 ** s }));

const yTick = (side: 'left' | 'right', majors: number[], majLen: number, minLen: number, fmt?: (v: number) => React.ReactNode) =>
  (props: any) => {
    const { x, y, payload } = props;
    const major = isMajor(payload.value, majors);
    const ax = side === 'left' ? x + OFF : x - OFF;
    const dir = side === 'left' ? 1 : -1;
    return (
      <g>
        <line x1={ax} x2={ax + dir * (major ? majLen : minLen)} y1={y} y2={y} stroke={INK} strokeWidth={1} />
        {fmt && major && (
          <text x={ax - 9} y={y} textAnchor="end" dominantBaseline="central" fontSize={19} fontFamily={FONT}
            fontWeight={WEIGHT} fill={INK} letterSpacing={0.5}>
            {fmt(payload.value)}
          </text>
        )}
      </g>
    );
  };

const xTick = (side: 'top' | 'bottom', labels: boolean) => (props: any) => {
  const { x, y, payload } = props;
  const major = isMajor(payload.value, magMajor);
  const ay = side === 'bottom' ? y - OFF : y + OFF;
  const dir = side === 'bottom' ? -1 : 1;
  return (
    <g>
      <line x1={x} x2={x} y1={ay} y2={ay + dir * (major ? 6 : 3)} stroke={INK} strokeWidth={1} />
      {labels && major && (
        <text x={x} y={ay + 29} textAnchor="middle" fontSize={19} fontFamily={FONT} fontWeight={WEIGHT} fill={INK} letterSpacing={0.5}>
          {payload.value}
        </text>
      )}
    </g>
  );
};

// the faint cloud uses a slightly heavier mark so its overall darkness matches the crowded original
const dot = (props: any) => <rect x={Math.round(props.cx) - 1} y={Math.round(props.cy) - 1} width={2} height={2} fill="#000" />;
const denseDot = (props: any) => <rect x={props.cx - 1.3} y={props.cy - 1.3} width={2.6} height={2.6} fill="#000" />;
const square = (color: string) => (props: any) =>
  <rect x={props.cx - 3.5} y={props.cy - 3.5} width={7} height={7} fill={color} />;

const rmsFmt = (v: number) => v.toFixed(2);
const sbFmt = (v: number) => (
  <>
    <tspan>10</tspan>
    <tspan dy={-7} fontSize={13}>{Math.round(Math.log10(v))}</tspan>
  </>
);

const axisLine = { stroke: INK, strokeWidth: 1.5 };
const BLUE = '#0a64f5';
const YELLOW = '#dcff00';

const App: React.FC = () => {
  return (
    <div style={{ position: 'absolute', left: 0, top: 0, width: 647, height: 490, background: '#fff' }}>
      {/* upper panel: RMS */}
      <div style={{ position: 'absolute', left: 0, top: 0 }}>
        <ScatterChart width={647} height={240} margin={{ top: 40, right: 0, bottom: 0, left: 0 }}>
          <XAxis xAxisId="b" dataKey="m" type="number" orientation="bottom" height={7} domain={magDomain} ticks={magTicks}
            allowDataOverflow interval={0} tickSize={4} tickMargin={4} tickLine={false} axisLine={axisLine} tick={xTick('bottom', false)} />
          <XAxis xAxisId="t" dataKey="m" type="number" orientation="top" height={5} domain={magDomain} ticks={magTicks}
            allowDataOverflow interval={0} tickSize={4} tickMargin={4} tickLine={false} axisLine={axisLine} tick={xTick('top', false)} />
          <YAxis yAxisId="l" dataKey="v" type="number" scale="log" orientation="left" width={107} domain={rmsDomain} ticks={rmsTicks}
            allowDataOverflow interval={0} tickSize={4} tickMargin={4} tickLine={false} axisLine={axisLine} tick={yTick('left', rmsMajor, 8, 4, rmsFmt)} />
          <YAxis yAxisId="r" dataKey="v" type="number" scale="log" orientation="right" width={1} domain={rmsDomain} ticks={rmsTicks}
            allowDataOverflow interval={0} tickSize={4} tickMargin={4} tickLine={false} axisLine={axisLine} tick={yTick('right', rmsMajor, 8, 4)} />
          <Scatter xAxisId="b" yAxisId="l" data={pts(rmsBright)} shape={dot} isAnimationActive={false} />
          <Scatter xAxisId="b" yAxisId="l" data={pts(rmsEdge)} shape={dot} isAnimationActive={false} />
          <Scatter xAxisId="b" yAxisId="l" data={rmsFaint} shape={denseDot} isAnimationActive={false} />
          <Scatter xAxisId="t" yAxisId="r" data={[]} isAnimationActive={false} />
          <Scatter xAxisId="b" yAxisId="l" data={blueStars.map(([m, v]) => ({ m, v }))} shape={square(BLUE)} isAnimationActive={false} />
          <Scatter xAxisId="b" yAxisId="l" data={yellowStars.map(([m, v]) => ({ m, v }))} shape={square(YELLOW)} isAnimationActive={false} />
        </ScatterChart>
      </div>

      {/* lower panel: S_B */}
      <div style={{ position: 'absolute', left: 0, top: 0 }}>
        <ScatterChart width={647} height={490} margin={{ top: 228, right: 0, bottom: 0, left: 0 }}>
          <XAxis xAxisId="b" dataKey="m" type="number" orientation="bottom" height={67} domain={magDomain} ticks={magTicks}
            allowDataOverflow interval={0} tickSize={4} tickMargin={4} tickLine={false} axisLine={axisLine} tick={xTick('bottom', true)} />
          <XAxis xAxisId="t" dataKey="m" type="number" orientation="top" height={5} domain={magDomain} ticks={magTicks}
            allowDataOverflow interval={0} tickSize={4} tickMargin={4} tickLine={false} axisLine={axisLine} tick={xTick('top', false)} />
          <YAxis yAxisId="l" dataKey="v" type="number" scale="log" orientation="left" width={107} domain={sbDomain} ticks={sbTicks}
            allowDataOverflow interval={0} tickSize={4} tickMargin={4} tickLine={false} axisLine={axisLine} tick={yTick('left', sbMajor, 5, 4, sbFmt)} />
          <YAxis yAxisId="r" dataKey="v" type="number" scale="log" orientation="right" width={1} domain={sbDomain} ticks={sbTicks}
            allowDataOverflow interval={0} tickSize={4} tickMargin={4} tickLine={false} axisLine={axisLine} tick={yTick('right', sbMajor, 5, 4)} />
          <Scatter xAxisId="b" yAxisId="l" data={pts(sbBright)} shape={dot} isAnimationActive={false} />
          <Scatter xAxisId="b" yAxisId="l" data={pts(sbEdge)} shape={dot} isAnimationActive={false} />
          <Scatter xAxisId="b" yAxisId="l" data={sbFaint} shape={denseDot} isAnimationActive={false} />
          <Scatter xAxisId="t" yAxisId="r" data={[]} isAnimationActive={false} />
          <Scatter xAxisId="b" yAxisId="l" data={blueStars.map(([m, , v]) => ({ m, v }))} shape={square(BLUE)} isAnimationActive={false} />
          <Scatter xAxisId="b" yAxisId="l" data={yellowStars.map(([m, , v]) => ({ m, v }))} shape={square(YELLOW)} isAnimationActive={false} />
        </ScatterChart>
      </div>

      {/* titles and annotations */}
      <svg width={647} height={490} style={{ position: 'absolute', left: 0, top: 0, pointerEvents: 'none' }}
        fontFamily={FONT} fontWeight={WEIGHT} fill={INK}>
        <text x={380} y={32} textAnchor="middle" fontSize={24} letterSpacing={2.5}>2616 stars at 78 epochs</text>
        <text x={123} y={80} fontSize={19} letterSpacing={0.3}>NGC 5139</text>
        <text x={27} y={131} textAnchor="middle" fontSize={19} transform="rotate(-90 27 131)">RMS (mag)</text>
        <text x={47} y={329} textAnchor="middle" fontSize={19} transform="rotate(-90 47 329)">
          S<tspan dy={5} fontSize={13}>B</tspan>
        </text>
        <text x={381} y={482} textAnchor="middle" fontSize={19} letterSpacing={0.7}>Mean I Magnitude</text>
      </svg>
    </div>
  );
};

export default App;
